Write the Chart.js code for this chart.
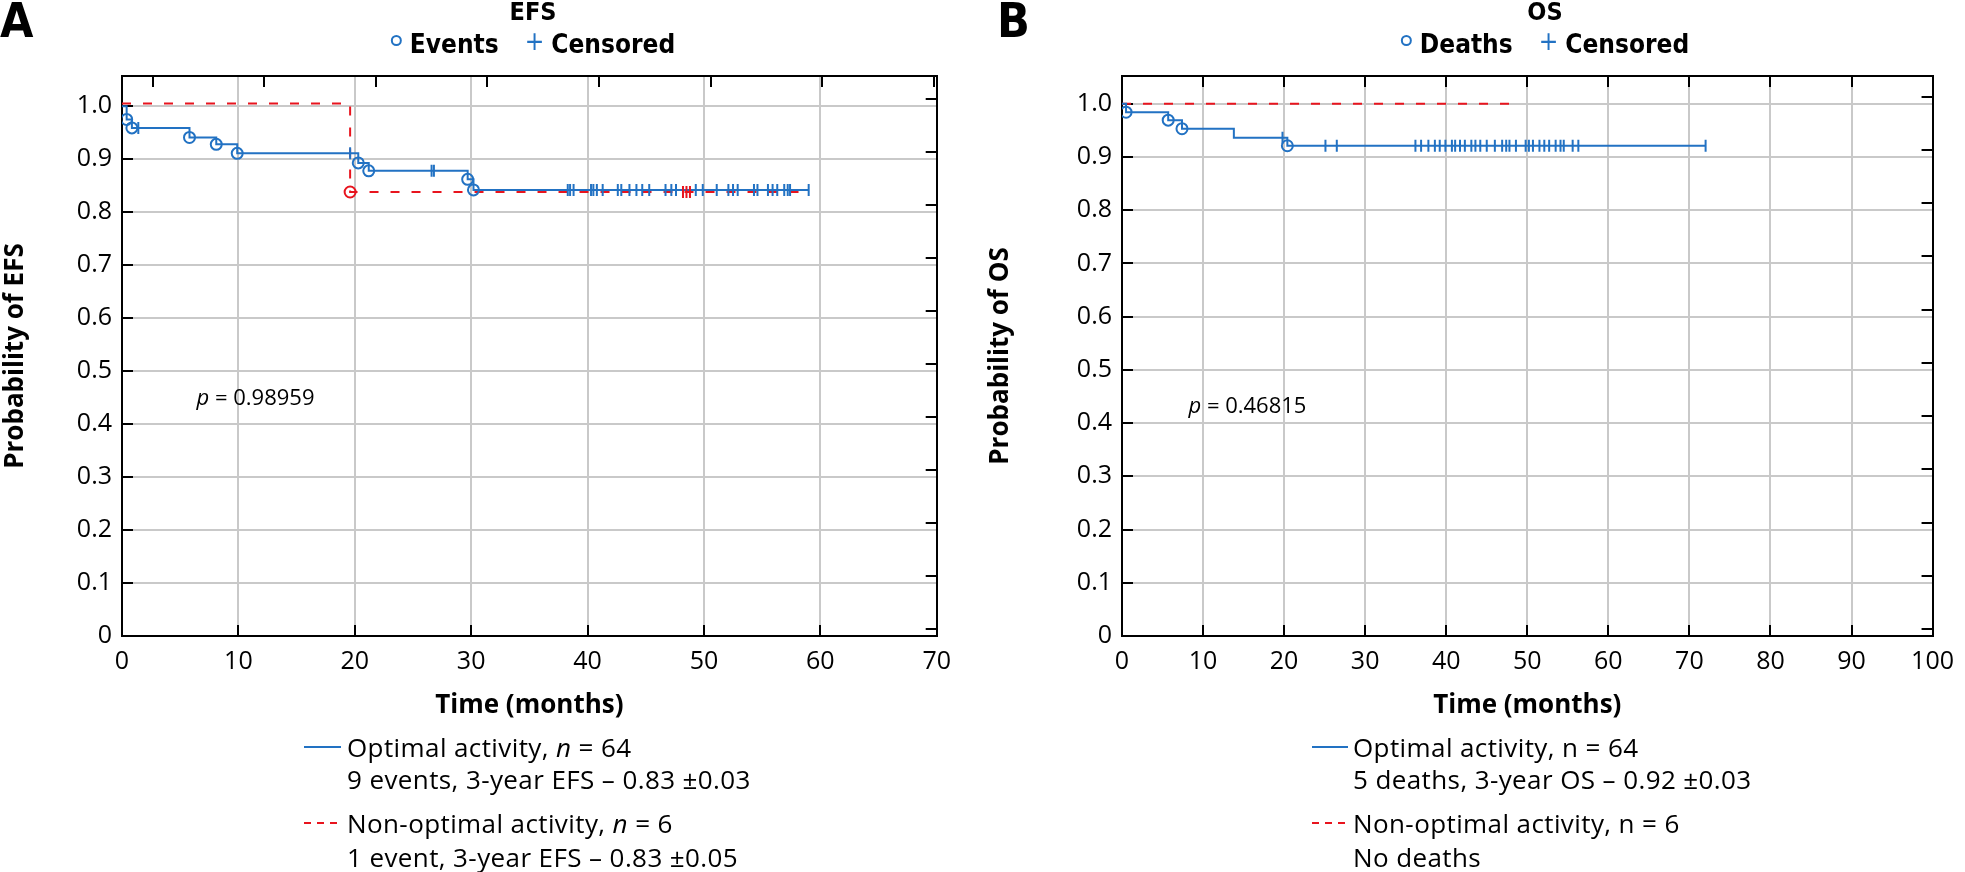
<!DOCTYPE html>
<html>
<head>
<meta charset="utf-8">
<script src="https://cdn.jsdelivr.net/npm/chart.js@4.4.1/dist/chart.umd.min.js"></script>
<style>
body { margin: 0; background: #fff; width: 1965px; height: 872px; position: relative; overflow: hidden; font-family: "Open Sans", sans-serif; color: #000; }
canvas { position: absolute; top: 0; }
.abs { position: absolute; white-space: nowrap; }
.head { font-family: "Liberation Sans Narrow", "DejaVu Sans Condensed", "Open Sans", sans-serif; font-weight: 700; }
.panel { font-size: 48px; line-height: 48px; }
.title { font-size: 25px; line-height: 25px; transform: translateX(-50%); }
.tleg { font-size: 26px; line-height: 26px; transform: translateX(-50%); display: flex; align-items: center; }
.ring { display: inline-block; width: 7px; height: 7px; border: 2px solid #2272c3; border-radius: 50%; margin-right: 8px; position: relative; top: -4px; }
.plus { color: #2272c3; font-weight: 400; margin: 0 7px 0 26px; position: relative; top: -3px; }
.txt { font-size: 26px; line-height: 32px; letter-spacing: 0.4px; }
.smp { position: absolute; }
</style>
</head>
<body>

<canvas id="efsChart" width="962" height="735" style="left:0px"></canvas>
<canvas id="osChart" width="980" height="735" style="left:985px"></canvas>

<div class="abs head panel" style="left:0px;top:-4px">A</div>
<div class="abs head panel" style="left:997px;top:-4px">B</div>

<div class="abs head title" style="left:533px;top:-1px">EFS</div>
<div class="abs head tleg" style="left:533px;top:31px"><span class="ring"></span>Events<span class="plus">+</span>Censored</div>

<div class="abs head title" style="left:1545px;top:-1px">OS</div>
<div class="abs head tleg" style="left:1545px;top:31px"><span class="ring"></span>Deaths<span class="plus">+</span>Censored</div>

<svg class="smp" style="left:304px;top:745px" width="37" height="4"><line x1="0" y1="2" x2="37" y2="2" stroke="#2272c3" stroke-width="2"/></svg>
<div class="abs txt" style="left:347px;top:731px">Optimal activity, <i>n</i> = 64</div>
<div class="abs txt" style="left:347px;top:763px">9 events, 3-year EFS – 0.83 ±0.03</div>
<svg class="smp" style="left:304px;top:821px" width="37" height="4"><line x1="0" y1="2" x2="37" y2="2" stroke="#e8141e" stroke-width="2" stroke-dasharray="7 6"/></svg>
<div class="abs txt" style="left:347px;top:807px">Non-optimal activity, <i>n</i> = 6</div>
<div class="abs txt" style="left:347px;top:841px">1 event, 3-year EFS – 0.83 ±0.05</div>

<svg class="smp" style="left:1312px;top:745px" width="36" height="4"><line x1="0" y1="2" x2="36" y2="2" stroke="#2272c3" stroke-width="2"/></svg>
<div class="abs txt" style="left:1353px;top:731px">Optimal activity, n = 64</div>
<div class="abs txt" style="left:1353px;top:763px">5 deaths, 3-year OS – 0.92 ±0.03</div>
<svg class="smp" style="left:1312px;top:821px" width="36" height="4"><line x1="0" y1="2" x2="36" y2="2" stroke="#e8141e" stroke-width="2" stroke-dasharray="7 6"/></svg>
<div class="abs txt" style="left:1353px;top:807px">Non-optimal activity, n = 6</div>
<div class="abs txt" style="left:1353px;top:841px">No deaths</div>

<script>
// EFS - optimal activity (n = 64): step times / survival after each step
let efsOptTime = [0, 0.4, 0.85, 5.8, 8.1, 9.9, 20.3, 21.2, 29.7, 30.2, 59.0]
let efsOptSurv = [1, 0.975, 0.959, 0.941, 0.928, 0.911, 0.893, 0.878, 0.862, 0.842, 0.842]
let efsOptEvents = [0.4, 0.85, 5.8, 8.1, 9.9, 20.3, 21.2, 29.7, 30.2]
let efsOptCensored = [1.4, 19.6, 26.6, 26.8, 38.3, 38.5, 38.8, 40.3, 40.5, 40.8, 41.3, 42.6, 42.9, 43.6,
    44.2, 44.7, 45.3, 46.7, 47.2, 47.6, 49.3, 49.9, 51.1, 52.1, 52.5, 52.9, 54.3, 54.6, 55.5, 55.9,
    56.3, 56.9, 57.2, 57.4, 59.0]
// EFS - non-optimal activity (n = 6)
let efsNonTime = [0, 19.6, 58.8]
let efsNonSurv = [1.005, 0.838, 0.838]
let efsNonEvents = [19.6]
let efsNonCensored = [48.2, 48.5, 48.8]

// OS - optimal activity
let osOptTime = [0, 0.5, 5.7, 7.4, 13.8, 20.4, 72.0]
let osOptSurv = [1, 0.984, 0.969, 0.953, 0.936, 0.921, 0.921]
let osOptEvents = [0.5, 5.7, 7.4, 20.4]
let osOptCensored = [19.8, 25.1, 26.5, 36.2, 36.9, 37.8, 38.6, 39.2, 39.9, 40.7, 41.1, 41.7, 42.3,
    43.1, 43.6, 44.2, 45.0, 46.0, 46.9, 47.4, 47.8, 48.6, 49.8, 50.2, 50.7, 51.5, 52.1, 52.7, 53.5,
    54.1, 54.5, 55.6, 56.3, 72.0]
// OS - non-optimal activity
let osNonTime = [0, 48.6]
let osNonSurv = [1, 1]
let osNonEvents = []
let osNonCensored = []

let pEfs = '0.98959'
let pOs = '0.46815'

let yTicks = [0, 0.1, 0.2, 0.3, 0.4, 0.5, 0.6, 0.7, 0.8, 0.9, 1.0]

let blue = '#2272c3'
let red = '#e8141e'
let font = '"Open Sans", sans-serif'

Chart.defaults.font.family = font
Chart.defaults.color = '#000'

// survival level of a step curve at time t
let levelAt = function (times, surv, t) {
    let v = surv[0]
    for (let i = 0; i < times.length; i++) {
        if (times[i] <= t) v = surv[i]
    }
    return v
}

let pts = function (times, surv) {
    return times.map((t, i) => ({x: t, y: surv[i]}))
}

let marks = function (list, times, surv) {
    return list.map(t => ({x: t, y: levelAt(times, surv, t)}))
}

// small tick marks pointing into the plot box
let innerTicks = {
    id: 'innerTicks',
    beforeDatasetsDraw(chart, args, opts) {
        let ctx = chart.ctx
        let a = chart.chartArea
        let len = opts.length
        ctx.save()
        ctx.strokeStyle = '#000'
        ctx.lineWidth = 2
        ctx.beginPath()
        for (let id of ['x', 'y', 'x2', 'y2']) {
            let s = chart.scales[id]
            if (!s) continue
            s.ticks.forEach(t => {
                let p = Math.round(s.getPixelForValue(t.value))
                if (id === 'x') { ctx.moveTo(p, a.bottom); ctx.lineTo(p, a.bottom - len) }
                if (id === 'x2') { ctx.moveTo(p, a.top); ctx.lineTo(p, a.top + len) }
                if (id === 'y') { ctx.moveTo(a.left, p); ctx.lineTo(a.left + len, p) }
                if (id === 'y2') { ctx.moveTo(a.right, p); ctx.lineTo(a.right - len, p) }
            })
        }
        ctx.stroke()
        ctx.restore()
    }
}

let pLabel = {
    id: 'pLabel',
    afterDraw(chart, args, opts) {
        let ctx = chart.ctx
        let x = chart.scales.x.getPixelForValue(opts.x)
        let y = chart.scales.y.getPixelForValue(opts.y)
        ctx.save()
        ctx.fillStyle = '#000'
        ctx.textBaseline = 'middle'
        ctx.font = 'italic 22px ' + font
        ctx.fillText('p', x, y)
        let w = ctx.measureText('p').width
        ctx.font = '22px ' + font
        ctx.fillText(' = ' + opts.value, x + w, y)
        ctx.restore()
    }
}

let kmDraw = function (id, c) {
    let ctx = document.getElementById(id).getContext('2d')
    return new Chart(ctx, {
        type: 'scatter',
        data: {
            datasets: [
                {data: pts(c.optTime, c.optSurv), showLine: true, stepped: true, borderColor: blue, borderWidth: 2, pointRadius: 0, order: 2},
                {data: pts(c.nonTime, c.nonSurv), showLine: true, stepped: true, borderColor: red, borderWidth: 2, borderDash: [9, 12], pointRadius: 0, order: 3},
                {data: marks(c.optEvents, c.optTime, c.optSurv), pointStyle: 'circle', pointRadius: 5.5, borderWidth: 2, borderColor: blue, backgroundColor: 'rgba(0,0,0,0)', order: 1},
                {data: marks(c.optCensored, c.optTime, c.optSurv), pointStyle: 'line', pointRotation: 90, pointRadius: 6, borderWidth: 2, borderColor: blue, order: 1},
                {data: marks(c.nonEvents, c.nonTime, c.nonSurv), pointStyle: 'circle', pointRadius: 5.5, borderWidth: 2, borderColor: red, backgroundColor: 'rgba(0,0,0,0)', order: 0},
                {data: marks(c.nonCensored, c.nonTime, c.nonSurv), pointStyle: 'line', pointRotation: 90, pointRadius: 6, borderWidth: 2, borderColor: red, order: 0}
            ]
        },
        options: {
            responsive: false,
            animation: false,
            devicePixelRatio: 1,
            layout: {padding: {top: 76, right: c.padRight, left: 0, bottom: 0}},
            plugins: {
                legend: {display: false},
                tooltip: {enabled: false},
                innerTicks: {length: 11},
                pLabel: {x: c.pX, y: c.pY, value: c.p}
            },
            scales: {
                x: {
                    type: 'linear', min: 0, max: c.xMax,
                    ticks: {stepSize: 10, includeBounds: false, padding: 11, maxRotation: 0, autoSkip: false, font: {size: 25}},
                    grid: {color: '#c9c9c9', lineWidth: 2, drawTicks: false},
                    border: {color: '#000', width: 2},
                    title: {display: true, text: 'Time (months)', font: {size: 26, weight: 'bold'}, padding: {top: 0, bottom: 14}},
                    afterFit: s => { s.height = 99 }
                },
                y: {
                    type: 'linear', min: 0, max: c.yMax,
                    afterBuildTicks: s => { s.ticks = yTicks.map(v => ({value: v})) },
                    ticks: {padding: 10, font: {size: 25}, callback: v => v === 0 ? '0' : v.toFixed(1)},
                    grid: {color: '#c9c9c9', lineWidth: 2, drawTicks: false},
                    border: {color: '#000', width: 2},
                    title: {display: true, text: c.yTitle, font: {size: 26, weight: 'bold'}, padding: {top: 0, bottom: 0}},
                    afterFit: s => { s.width = c.yWidth }
                },
                x2: {
                    type: 'linear', position: 'top', min: c.x2Min, max: c.x2Max,
                    ticks: {display: false, stepSize: 10, includeBounds: false},
                    grid: {drawOnChartArea: false, drawTicks: false},
                    border: {color: '#000', width: 2},
                    afterFit: s => { s.height = 0 }
                },
                y2: {
                    type: 'linear', position: 'right', min: c.y2Min, max: c.y2Max,
                    ticks: {display: false, stepSize: 0.1, includeBounds: false},
                    grid: {drawOnChartArea: false, drawTicks: false},
                    border: {color: '#000', width: 2},
                    afterFit: s => { s.width = 0 }
                }
            }
        },
        plugins: [innerTicks, pLabel]
    })
}

window.addEventListener('load', function () {
    kmDraw('efsChart', {
        optTime: efsOptTime, optSurv: efsOptSurv, optEvents: efsOptEvents, optCensored: efsOptCensored,
        nonTime: efsNonTime, nonSurv: efsNonSurv, nonEvents: efsNonEvents, nonCensored: efsNonCensored,
        xMax: 70, yMax: 1.057, x2Min: -2.74, x2Max: 70.26, y2Min: -0.0132, y2Max: 1.0438,
        yTitle: 'Probability of EFS', yWidth: 122, padRight: 15,
        p: pEfs, pX: 6.4, pY: 0.447
    })
    kmDraw('osChart', {
        optTime: osOptTime, optSurv: osOptSurv, optEvents: osOptEvents, optCensored: osOptCensored,
        nonTime: osNonTime, nonSurv: osNonSurv, nonEvents: osNonEvents, nonCensored: osNonCensored,
        xMax: 100, yMax: 1.052, x2Min: -3.04, x2Max: 96.96, y2Min: -0.013, y2Max: 1.039,
        yTitle: 'Probability of OS', yWidth: 137, padRight: 20,
        p: pOs, pX: 8.2, pY: 0.43
    })
})
</script>
</body>
</html>
